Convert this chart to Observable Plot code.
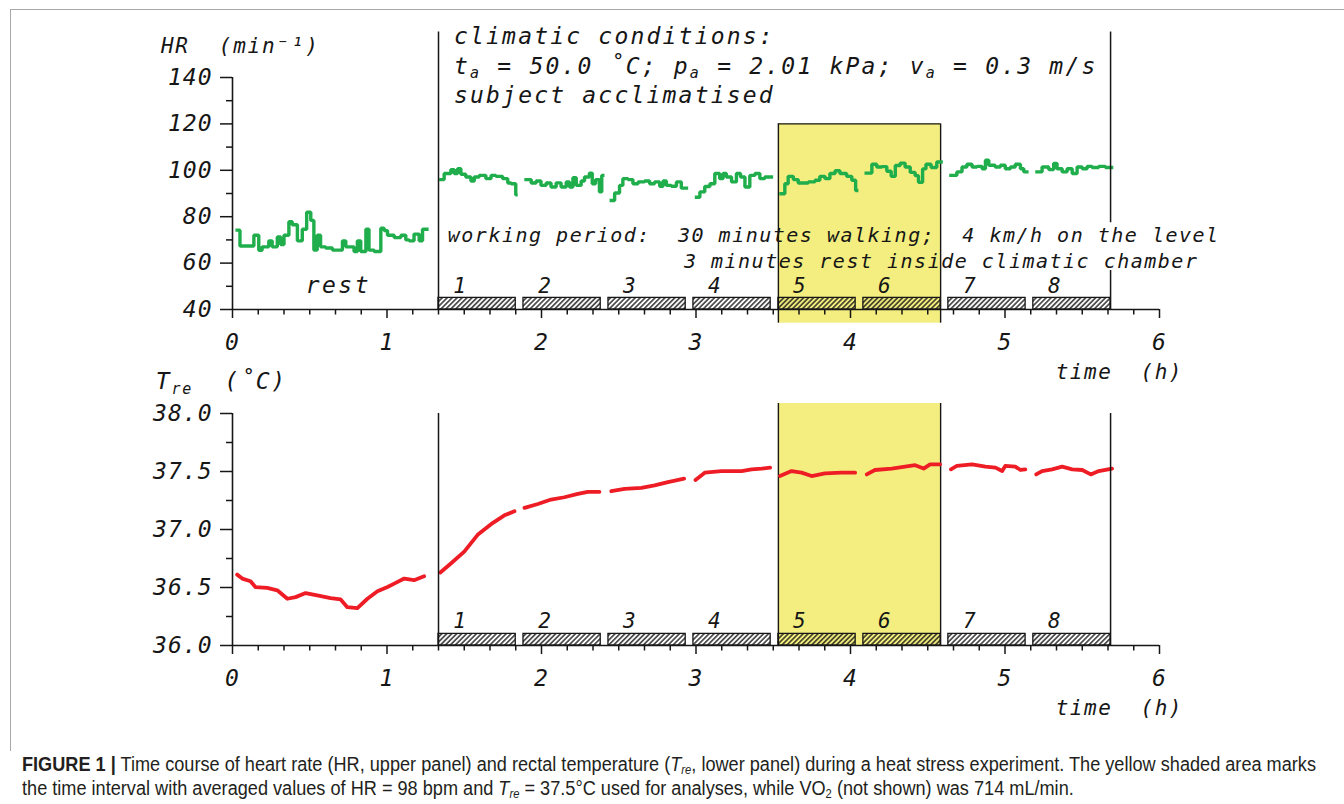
<!DOCTYPE html>
<html>
<head>
<meta charset="utf-8">
<script src="https://cdn.jsdelivr.net/npm/d3@7"></script>
<script src="https://cdn.jsdelivr.net/npm/@observablehq/plot@0.6"></script>
<style>
  html, body { margin: 0; padding: 0; background: #fff; }
  body { width: 1344px; height: 804px; position: relative; overflow: hidden; }
  #frameTop { position: absolute; left: 10px; top: 9px; width: 1334px; height: 0; border-top: 1px solid #a8a8a8; }
  #frameLeft { position: absolute; left: 10px; top: 9px; width: 0; height: 742px; border-left: 1px solid #a8a8a8; }
  #upper { position: absolute; left: 0; top: 0; }
  #lower { position: absolute; left: 0; top: 390px; }
  #caption { position: absolute; left: 22px; top: 752px; font-family: "Liberation Sans Narrow", "Liberation Sans", Arial, sans-serif; font-size: 19.5px; line-height: 24px; color: #231f20; }
  #caption .ln { white-space: nowrap; transform-origin: 0 50%; display: block; width: max-content; }
  #caption sub { font-size: 0.62em; line-height: 0; vertical-align: -0.25em; }
</style>
</head>
<body>
<svg width="0" height="0" style="position:absolute">
  <defs>
    <pattern id="hatch" patternUnits="userSpaceOnUse" width="3.5" height="3.5" patternTransform="rotate(45)">
      <line x1="1.75" y1="-1" x2="1.75" y2="4.5" stroke="#111" stroke-width="1.3"/>
    </pattern>
  </defs>
</svg>
<div id="frameTop"></div>
<div id="frameLeft"></div>
<div id="upper"></div>
<div id="lower"></div>
<div id="caption">
  <div class="ln" id="cap1"><b>FIGURE 1</b> <b>|</b> Time course of heart rate (HR, upper panel) and rectal temperature (<i>T</i><sub><i>re</i></sub>, lower panel) during a heat stress experiment. The yellow shaded area marks</div>
  <div class="ln" id="cap2">the time interval with averaged values of HR = 98 bpm and <i>T</i><sub><i>re</i></sub> = 37.5°C used for analyses, while VO<sub>2</sub> (not shown) was 714 mL/min.</div>
</div>
<script>
// ---------------- data (time in minutes from start) ----------------
const timeTicksH = [0, 1, 2, 3, 4, 5, 6];
const hrTicks = [40, 60, 80, 100, 120, 140];
const hrMinorTicks = [50, 70, 90, 110, 130];
const treTicks = [36.0, 36.5, 37.0, 37.5, 38.0];
const treMinorTicks = [36.25, 36.75, 37.25, 37.75];

const workStart = [80, 113, 146, 179, 212, 245, 278, 311];
const workEnd   = [110, 143, 176, 209, 242, 275, 308, 341];
const workLabels = ["1", "2", "3", "4", "5", "6", "7", "8"];
const analysisWindow = [212, 275];   // periods 5-6, yellow area
const sessionBounds = [80, 341];     // start of walking, end of last period

// heart rate (min^-1), [minute, value], step data
const hrRest = [[1.8,74.2],[2.9,67.4],[8.3,72],[10.2,65.5],[11.5,67],[14.1,69.6],[15.4,67],[17.4,71.3],[18.7,68],[20.0,72],[21.9,77.8],[23.2,76.5],[25.2,69.6],[27.1,74.6],[28.8,81.9],[30.4,78.4],[31.6,65.6],[32.9,72],[34.2,67],[36.2,66.5],[38.8,65.6],[42.7,69.6],[44.0,67],[47.2,65],[48.5,69.6],[49.8,65],[51.8,74.6],[53.0,65.6],[55.0,65],[57.6,75],[58.9,74],[60.2,72],[62.8,71],[65.4,72],[67.3,70],[68.6,69.6],[70.5,72.5],[72.5,69.6],[73.8,74.6],[75.5,74.6]];
const hrW1 = [[80.9,96],[82.2,98.6],[84.8,100.3],[86.1,98.6],[87.4,100.7],[88.7,98.3],[90.6,97.1],[92.6,95.4],[93.9,97.1],[95.8,97.8],[98.4,96.4],[100.4,97.8],[102.3,97.4],[104.9,96.4],[106.9,94.5],[108.2,94.2],[110.0,89.4],[110.1,89.4]];
const hrW2 = [[114.0,96],[116.0,94.5],[117.9,95.4],[119.8,93.5],[121.8,94.5],[123.7,92.8],[125.7,94.6],[127.6,92.8],[129.6,95],[130.9,92.8],[132.2,96.8],[133.5,93.5],[135.4,95.4],[136.7,97.1],[138.6,98.8],[139.7,94.2],[141.0,96],[142.5,90.7],[143.4,97.8],[143.8,97.8]];
const hrW3 = [[147.1,87],[148.4,90.2],[150.3,93.5],[151.6,96.4],[153.6,96],[155.5,94.2],[157.5,95],[160.0,95.4],[162.0,94.2],[163.9,95],[165.9,93.1],[167.2,95.4],[168.5,93.5],[170.4,93.1],[172.4,95],[174.3,92.3],[176.3,92.3]];
const hrW4 = [[180.2,88.4],[181.5,90.7],[183.4,93],[185.4,94.2],[187.3,98.6],[189.2,96.4],[190.5,98.6],[191.8,97.1],[193.8,95],[195.7,98.6],[197.3,97.1],[199.0,92.8],[200.9,97.8],[202.9,98.6],[204.8,96.4],[206.7,97.1],[209.3,97.1]];
const hrW5 = [[213.0,89.9],[214.5,94.2],[215.8,97.4],[217.8,96],[219.7,94.5],[223.6,95],[226.2,95.7],[228.1,97.4],[230.1,96.4],[232.0,98.6],[234.0,99.8],[235.9,98.6],[238.5,97.4],[240.5,95.7],[242.0,91.3],[242.4,91.3]];
const hrW6 = [[246.1,98.8],[248.3,102.6],[250.2,101.4],[252.2,101.6],[254.1,99.6],[255.8,97.4],[257.4,102.1],[259.3,103.1],[261.2,101.4],[263.2,99.1],[265.1,97.7],[266.4,94.8],[268.0,100.6],[269.3,102.6],[271.3,101.2],[273.5,103.6],[275.2,103.6]];
const hrW7 = [[279.0,97.8],[281.3,99.3],[283.3,101.4],[285.2,102.6],[287.2,101.4],[289.1,101.7],[291.1,100.7],[292.4,104.3],[293.7,102.2],[296.2,101.4],[298.2,102.2],[300.1,100.7],[302.1,101.4],[304.0,102.6],[306.0,100.7],[307.3,99.3],[308.5,99.3]];
const hrW8 = [[312.4,99.3],[314.4,101.4],[317.0,100.3],[318.9,103],[320.2,100.7],[322.2,99.3],[324.1,100.7],[326.1,98.6],[328.0,101.4],[330.0,100.7],[331.9,101.7],[333.8,101.2],[336.4,101.7],[339.0,101.2],[341.4,101.2]];

// rectal temperature (°C), [minute, value]
const treRest = [[1.8,36.611],[3.8,36.577],[7.0,36.554],[8.9,36.504],[13.5,36.496],[17.4,36.476],[21.3,36.403],[24.5,36.417],[28.4,36.452],[32.9,36.432],[38.1,36.409],[42.0,36.397],[44.6,36.33],[48.5,36.322],[52.4,36.403],[56.3,36.467],[60.2,36.504],[62.8,36.533],[66.7,36.577],[70.5,36.563],[74.4,36.597]];
const treW1 = [[80.7,36.629],[84.8,36.707],[90.0,36.809],[95.2,36.954],[100.4,37.046],[105.6,37.122],[109.5,37.157]];
const treW2 = [[113.4,37.186],[118.6,37.22],[123.7,37.258],[128.9,37.278],[134.1,37.307],[138.0,37.325],[142.5,37.325]];
const treW3 = [[147.1,37.33],[152.3,37.351],[158.8,37.359],[163.9,37.38],[169.1,37.409],[175.4,37.438]];
const treW4 = [[179.8,37.426],[183.4,37.49],[189.9,37.504],[197.7,37.504],[201.6,37.519],[205.5,37.525],[208.8,37.533]];
const treW5 = [[212.6,37.461],[217.1,37.504],[221.0,37.49],[224.9,37.461],[230.1,37.484],[236.6,37.49],[241.8,37.49]];
const treW6 = [[246.3,37.475],[249.5,37.513],[256.0,37.525],[261.2,37.542],[265.1,37.554],[268.4,37.525],[270.9,37.562],[274.8,37.562]];
const treW7 = [[279.0,37.519],[281.3,37.548],[287.2,37.562],[292.4,37.542],[296.3,37.533],[298.9,37.504],[300.1,37.548],[304.0,37.542],[306.0,37.513],[307.9,37.519]];
const treW8 = [[312.1,37.475],[314.4,37.504],[318.3,37.519],[322.2,37.542],[326.1,37.519],[330.0,37.513],[333.3,37.475],[336.4,37.504],[341.6,37.525]];

// text
const hrHeader = ["climatic conditions:", "t{a} = 50.0 ˚C; p{a} = 2.01 kPa; v{a} = 0.3 m/s", "subject acclimatised"];
const hrHeaderY = [154.6, 141.6, 128.9];
const workNote = ["working period:  30 minutes walking;  4 km/h on the level", "3 minutes rest inside climatic chamber"];

// ---------------- build ----------------
const flat = segs => segs.flatMap((s, i) => s.map(([t, v]) => ({t, v, seg: i})));
const hrData = flat([hrRest, hrW1, hrW2, hrW3, hrW4, hrW5, hrW6, hrW7, hrW8]);
const treData = flat([treRest, treW1, treW2, treW3, treW4, treW5, treW6, treW7, treW8]);
const periods = workStart.map((s, i) => ({start: s, end: workEnd[i], label: workLabels[i]}));

const GREEN = "#1fae4b", RED = "#ee1d25", YELLOW = "#f3ee7f", INK = "#161616";
const xMajor = timeTicksH.map(h => h * 60);
const xMinor = d3.range(0, 361, 10).filter(d => d % 60 !== 0);

const svgStyle = {
  fontFamily: '"DejaVu Sans Mono", monospace',
  fontStyle: "italic",
  fontSize: "23px",
  letterSpacing: "1px",
  color: INK,
  background: "transparent",
  overflow: "visible"
};
const tag = name => () => name;   // per-element aria-label used for styling

function axes(yMajor, yMinor, yFormat) {
  return [
    Plot.axisX({ticks: xMajor, tickFormat: d => String(d / 60), tickSize: 9, tickPadding: 15, fontSize: 23, label: null, strokeWidth: 1.5}),
    Plot.axisX({ticks: xMinor, tickFormat: () => "", tickSize: 5.5, label: null, strokeWidth: 1.5}),
    Plot.axisY({ticks: yMajor, tickFormat: yFormat, tickSize: 12, tickPadding: 8, fontSize: 23, label: null, strokeWidth: 1.5}),
    Plot.axisY({ticks: yMinor, tickFormat: () => "", tickSize: 6, label: null, strokeWidth: 1.5})
  ];
}

const upper = Plot.plot({
  width: 1344, height: 390,
  marginLeft: 232, marginRight: 185, marginTop: 77, marginBottom: 81,
  x: {domain: [0, 360]},
  y: {domain: [40, 140]},
  style: svgStyle,
  marks: [
    Plot.rect([analysisWindow], {x1: d => d[0], x2: d => d[1], y1: 34.1, y2: 120, fill: YELLOW}),
    Plot.ruleX(analysisWindow, {y1: 34.1, y2: 120, stroke: INK, strokeWidth: 1.4}),
    Plot.ruleY([120], {x1: analysisWindow[0], x2: analysisWindow[1], stroke: INK, strokeWidth: 1.4}),
    Plot.text(workNote, {x: (d, i) => [83.6, 175.3][i], y: (d, i) => [69.1, 57.8][i], text: d => d, textAnchor: "start", lineAnchor: "bottom", fontSize: 20, ariaLabel: tag("note")}),
    Plot.line(hrData, {x: "t", y: "v", z: "seg", curve: "step-after", stroke: GREEN, strokeWidth: 3.4, strokeLinejoin: "miter", strokeLinecap: "square"}),
    Plot.rect(periods, {x1: "start", x2: "end", y1: 40, y2: 45, fill: "url(#hatch)", stroke: INK, strokeWidth: 1.3}),
    Plot.text(periods, {x: "start", y: 47.2, dx: 21, text: "label", lineAnchor: "bottom", fontSize: 21, ariaLabel: tag("num")}),
    Plot.ruleX([{x: sessionBounds[0], y1: 40, y2: 159.6}, {x: sessionBounds[1], y1: 40, y2: 56.8}, {x: sessionBounds[1], y1: 77.4, y2: 159.6}], {x: "x", y1: "y1", y2: "y2", stroke: INK, strokeWidth: 1.5}),
    Plot.ruleX([0], {stroke: INK, strokeWidth: 1.6}),
    Plot.ruleY([40], {stroke: INK, strokeWidth: 1.6}),
    ...axes(hrTicks, hrMinorTicks, d => String(d)),
    Plot.text(hrHeader, {x: 86, y: (d, i) => hrHeaderY[i], text: d => d, textAnchor: "start", lineAnchor: "bottom", fontSize: 23, ariaLabel: tag("header")}),
    Plot.text(["rest"], {x: 41.1, y: 46.9, text: d => d, textAnchor: "middle", lineAnchor: "bottom", fontSize: 23, ariaLabel: tag("rest")}),
    Plot.text(["HR  (min⁻¹)"], {x: -27.8, y: 150.5, text: d => d, textAnchor: "start", lineAnchor: "bottom", fontSize: 21, ariaLabel: tag("ylabel")}),
    Plot.text(["time  (h)"], {x: 319.7, y: 10.0, text: d => d, textAnchor: "start", lineAnchor: "bottom", fontSize: 21, ariaLabel: tag("xlabel")})
  ]
});

const lower = Plot.plot({
  width: 1344, height: 350,
  marginLeft: 232, marginRight: 185, marginTop: 23, marginBottom: 95,
  x: {domain: [0, 360]},
  y: {domain: [36, 38]},
  style: svgStyle,
  marks: [
    Plot.rect([analysisWindow], {x1: d => d[0], x2: d => d[1], y1: 36, y2: 38.086, fill: YELLOW}),
    Plot.ruleX(analysisWindow, {y1: 36, y2: 38.086, stroke: INK, strokeWidth: 1.4}),
    Plot.line(treData, {x: "t", y: "v", z: "seg", stroke: RED, strokeWidth: 3.8}),
    Plot.rect(periods, {x1: "start", x2: "end", y1: 36, y2: 36.1, fill: "url(#hatch)", stroke: INK, strokeWidth: 1.3}),
    Plot.text(periods, {x: "start", y: 36.153, dx: 21, text: "label", lineAnchor: "bottom", fontSize: 21, ariaLabel: tag("num")}),
    Plot.ruleX(sessionBounds, {y1: 36, y2: 38, stroke: INK, strokeWidth: 1.5}),
    Plot.ruleX([0], {stroke: INK, strokeWidth: 1.6}),
    Plot.ruleY([36], {stroke: INK, strokeWidth: 1.6}),
    ...axes(treTicks, treMinorTicks, d3.format(".1f")),
    Plot.text(["T{re}  (˚C)"], {x: -29.8, y: 38.207, text: d => d, textAnchor: "start", lineAnchor: "bottom", fontSize: 23, ariaLabel: tag("ylabel")}),
    Plot.text(["time  (h)"], {x: 319.7, y: 35.405, text: d => d, textAnchor: "start", lineAnchor: "bottom", fontSize: 21, ariaLabel: tag("xlabel")})
  ]
});

const spacing = {header: "2.2px", note: "1.5px", rest: "2.5px", num: "0px", ylabel: "1.8px", xlabel: "1.5px"};
const SVGNS = "http://www.w3.org/2000/svg";
function finish(svg) {
  for (const [label, ls] of Object.entries(spacing)) {
    svg.querySelectorAll(`[aria-label="${label}"]`).forEach(el => { el.style.letterSpacing = ls; });
  }
  svg.querySelectorAll("text").forEach(t => {
    const s = t.textContent;
    if (!s.includes("{")) return;
    t.textContent = "";
    let shifted = false;
    for (const part of s.split(/(\{[^}]*\})/)) {
      if (!part) continue;
      const ts = document.createElementNS(SVGNS, "tspan");
      if (part.startsWith("{")) {
        ts.textContent = part.slice(1, -1);
        ts.setAttribute("font-size", "15px");
        ts.setAttribute("dy", "4.5");
        shifted = true;
      } else {
        ts.textContent = part;
        if (shifted) { ts.setAttribute("dy", "-4.5"); shifted = false; }
      }
      t.appendChild(ts);
    }
  });
}
finish(upper);
finish(lower);
document.getElementById("upper").appendChild(upper);
document.getElementById("lower").appendChild(lower);

// fit caption lines to the reference width
const cap1 = document.getElementById("cap1"), cap2 = document.getElementById("cap2");
const w1 = cap1.getBoundingClientRect().width;
const k = 1294 / w1;
cap1.style.transform = `scaleX(${k})`;
cap2.style.transform = `scaleX(${k})`;
</script>
</body>
</html>
